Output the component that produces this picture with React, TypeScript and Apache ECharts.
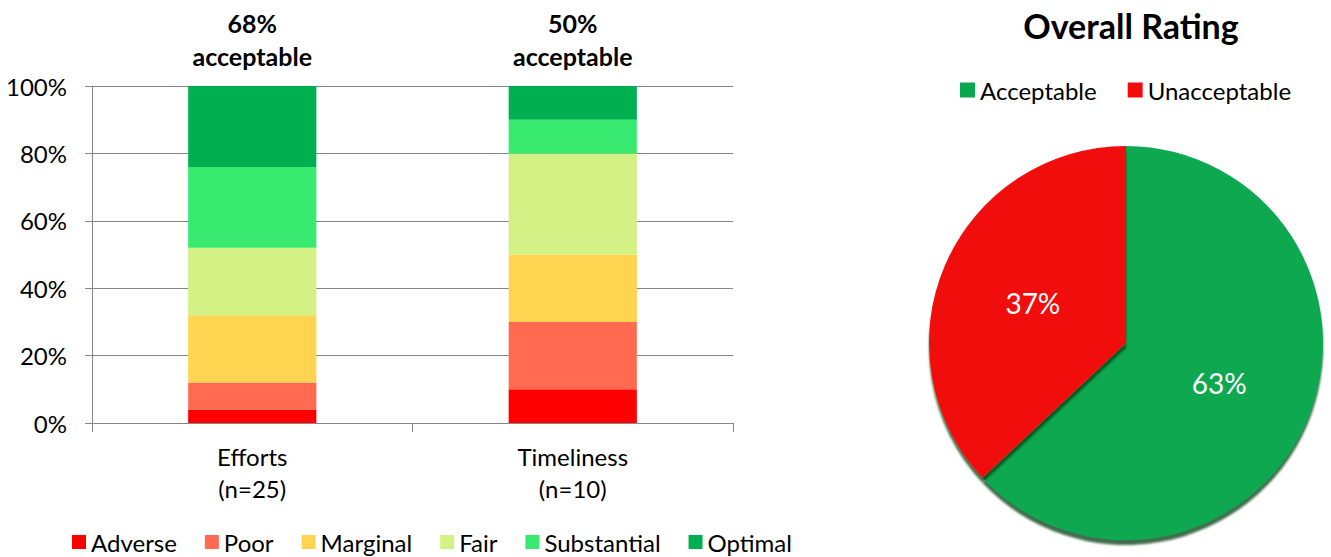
import React, { useEffect, useRef } from "react";
import * as echarts from "echarts";

const categories = ["Efforts\n(n=25)", "Timeliness\n(n=10)"];
const ratingNames = ["Adverse", "Poor", "Marginal", "Fair", "Substantial", "Optimal"];
const adverse = [4, 10];
const poor = [8, 20];
const marginal = [20, 20];
const fair = [20, 30];
const substantial = [24, 10];
const optimal = [24, 10];
const ratingColors = ["#FF0000", "#FF6A50", "#FFD450", "#D4F185", "#38EB70", "#00B050"];
const yTicks = [0, 20, 40, 60, 80, 100];

const pieNames = ["Acceptable", "Unacceptable"];
const pieValues = [63, 37];
const pieColors = ["#09A84F", "#F20D0D"];

const FONT = "Lato, 'Noto Sans', sans-serif";

export default function App() {
  const ref = useRef<HTMLDivElement>(null);
  useEffect(() => {
    if (!ref.current) return;
    const chart = echarts.init(ref.current, null, { renderer: "svg" });
    const seriesData = [adverse, poor, marginal, fair, substantial, optimal];
    const acceptable = categories.map((_, i) => fair[i] + substantial[i] + optimal[i]);
    const barSeries = ratingNames.map((name, k) => ({
      name,
      type: "bar",
      stack: "total",
      barWidth: "40%",
      xAxisIndex: 0,
      yAxisIndex: 0,
      itemStyle: { color: ratingColors[k] },
      data: seriesData[k],
      label:
        k === ratingNames.length - 1
          ? {
              show: true,
              position: "top",
              distance: 14,
              formatter: (p: any) => `${acceptable[p.dataIndex]}%\nacceptable`,
              fontFamily: FONT,
              fontWeight: "bold",
              fontSize: 25,
              lineHeight: 33,
              color: "#000",
            }
          : { show: false },
    }));
    chart.setOption({
      animation: false,
      textStyle: { fontFamily: FONT },
      title: {
        text: "Overall Rating",
        left: 1126,
        top: 3,
        textAlign: "center",
        textStyle: { fontFamily: FONT, fontWeight: "bold", fontSize: 34, color: "#000" },
      },
      legend: [
        {
          data: ratingNames,
          left: 72,
          top: 530,
          padding: 0,
          itemWidth: 14,
          itemHeight: 14,
          itemGap: 28,
          icon: "rect",
          textStyle: { fontFamily: FONT, fontSize: 24, color: "#000" },
        },
        {
          data: pieNames,
          left: 960,
          top: 78,
          padding: 0,
          itemWidth: 15,
          itemHeight: 15,
          itemGap: 31,
          icon: "rect",
          textStyle: { fontFamily: FONT, fontSize: 24, color: "#000" },
        },
      ],
      grid: { left: 92, right: 598, top: 86, bottom: 134, containLabel: false },
      xAxis: {
        type: "category",
        data: categories,
        axisLine: { show: true, lineStyle: { color: "#868686", width: 1 } },
        axisTick: { show: true, length: 9, lineStyle: { color: "#868686" } },
        axisLabel: {
          fontFamily: FONT,
          fontSize: 24,
          color: "#000",
          lineHeight: 32,
          margin: 17,
        },
      },
      yAxis: {
        type: "value",
        min: 0,
        max: 100,
        interval: 20,
        axisLine: { show: true, lineStyle: { color: "#868686", width: 1 } },
        axisTick: { show: true, length: 7, lineStyle: { color: "#868686" } },
        splitLine: { show: true, lineStyle: { color: "#868686", width: 1 } },
        axisLabel: {
          fontFamily: FONT,
          fontSize: 24,
          color: "#000",
          margin: 25,
          formatter: (v: number) => (yTicks.includes(v) ? `${v}%` : ""),
        },
      },
      series: [
        ...barSeries,
        {
          name: "Overall",
          type: "pie",
          center: [1126, 343],
          radius: 197,
          startAngle: 90,
          clockwise: true,
          label: {
            show: true,
            position: "inside",
            formatter: (p: any) => `${p.value}%`,
            fontFamily: FONT,
            fontSize: 28,
            color: "#fff",
          },
          labelLine: { show: false },
          itemStyle: {
            borderWidth: 0,
            shadowColor: "rgba(0,60,20,0.75)",
            shadowOffsetY: 5,
            shadowBlur: 2,
          },
          data: pieNames.map((name, i) => ({
            name,
            value: pieValues[i],
            itemStyle: { color: pieColors[i] },
          })),
        },
      ],
    });
    return () => chart.dispose();
  }, []);
  return (
    <div
      ref={ref}
      style={{ position: "absolute", left: 0, top: 0, width: 1331, height: 557, background: "#fff" }}
    />
  );
}
